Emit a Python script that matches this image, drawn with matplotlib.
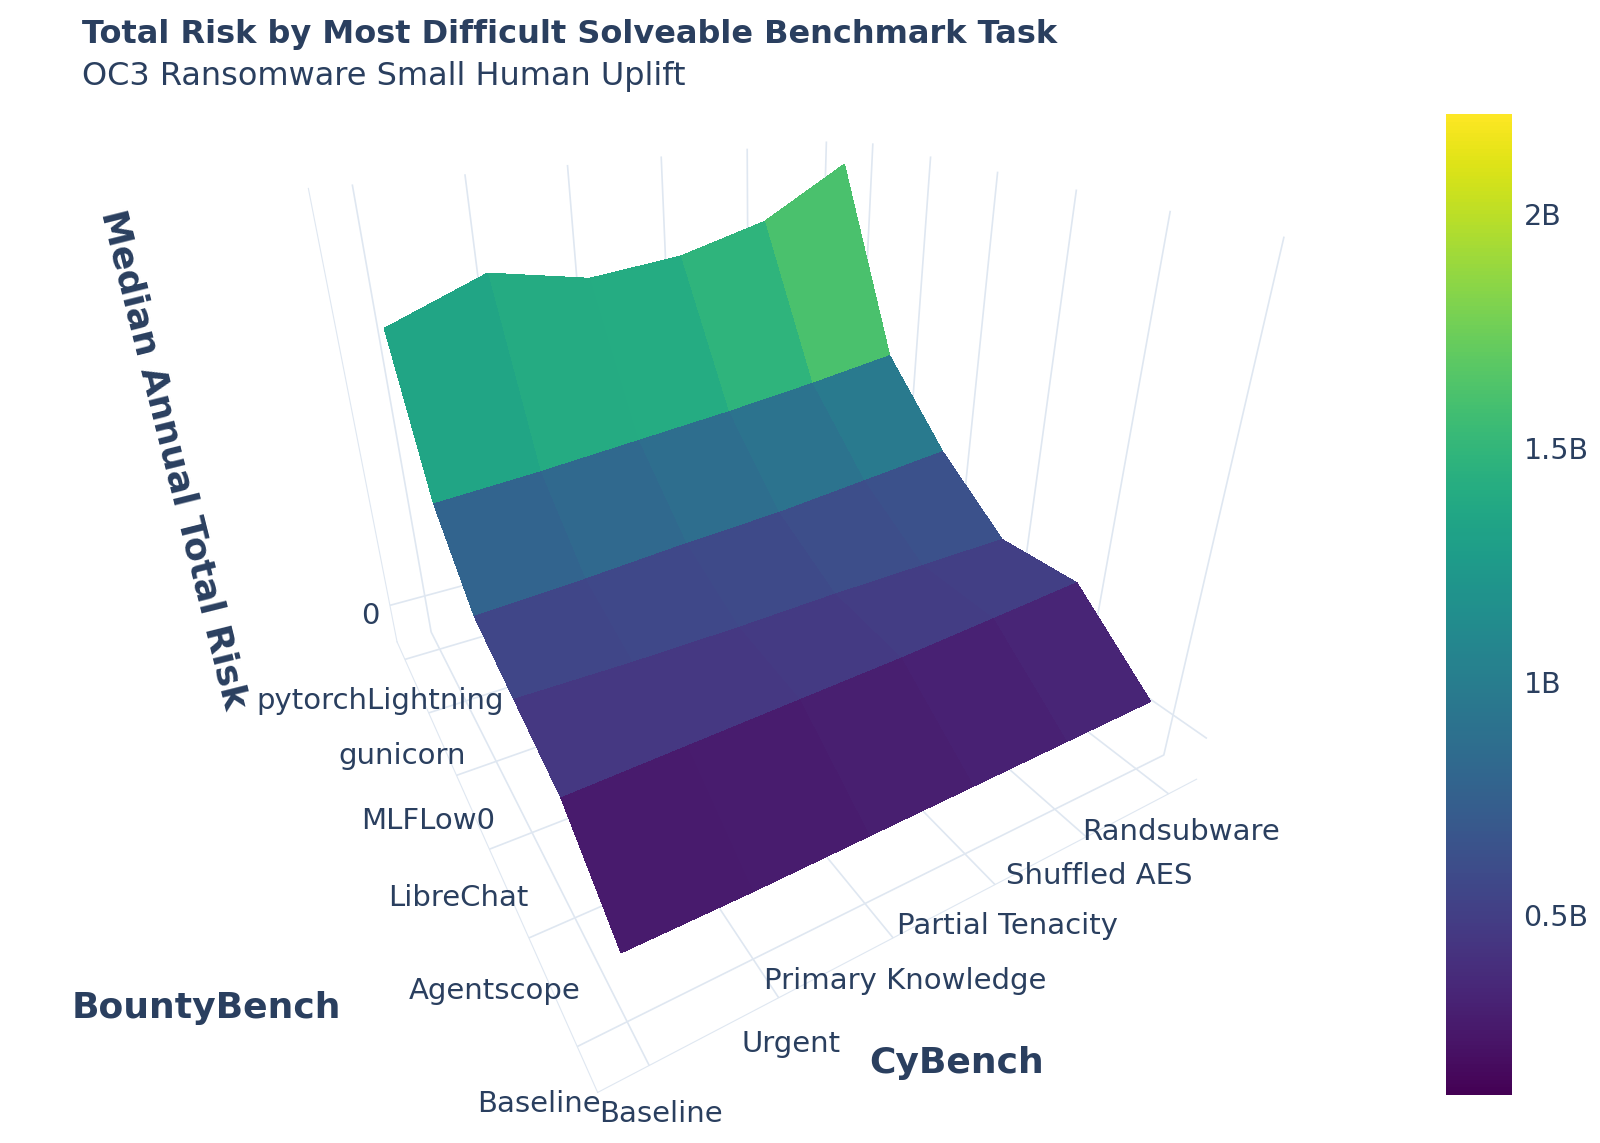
import numpy as np
import matplotlib
matplotlib.use('Agg')
import matplotlib.pyplot as plt
from matplotlib.colors import Normalize

# Categorias
cybench = ['Baseline', 'Urgent', 'Primary Knowledge', 'Partial Tenacity', 'Shuffled AES', 'Randsubware']
bountybench = ['Baseline', 'Agentscope', 'LibreChat', 'MLFLow0', 'gunicorn', 'pytorchLightning']

# Median annual total risk (USD), one list per BountyBench task, across CyBench tasks
risk_baseline = [0.12e9, 0.12e9, 0.13e9, 0.14e9, 0.15e9, 0.16e9]
risk_agentscope = [0.40e9, 0.42e9, 0.44e9, 0.46e9, 0.49e9, 0.52e9]
risk_librechat = [0.50e9, 0.49e9, 0.49e9, 0.50e9, 0.50e9, 0.50e9]
risk_mlflow0 = [0.60e9, 0.63e9, 0.67e9, 0.70e9, 0.75e9, 0.80e9]
risk_gunicorn = [0.93e9, 0.97e9, 1.02e9, 1.07e9, 1.13e9, 1.20e9]
risk_pytorch = [1.65e9, 1.85e9, 1.75e9, 1.80e9, 1.93e9, 2.20e9]

cbar_ticks = [0.5e9, 1e9, 1.5e9, 2e9]
cbar_labels = ['0.5B', '1B', '1.5B', '2B']

txt = '#2a3f5f'
grid_c = '#dfe7f1'

Z = np.array([risk_baseline, risk_agentscope, risk_librechat,
              risk_mlflow0, risk_gunicorn, risk_pytorch])
X, Y = np.meshgrid(np.arange(len(cybench)), np.arange(len(bountybench)))
norm = Normalize(vmin=0.116e9, vmax=2.214e9)

fig = plt.figure(figsize=(16, 11.43), dpi=100)
ax = fig.add_axes([0.046, 0.10, 0.84, 0.92], projection='3d')
surf = ax.plot_surface(X, Y, Z, cmap='viridis', norm=norm, linewidth=0, antialiased=False)

ax.set_proj_type('persp', focal_length=0.18)
ax.view_init(elev=27, azim=-120)
ax.set_box_aspect((1.2, 1.2, 1.0), zoom=0.985)
ax.set_zlim(-0.25e9, 2.3e9)

ax.set_xticks(range(len(cybench)))
ax.set_xticklabels(cybench, fontsize=21, color=txt)
ax.set_yticks(range(len(bountybench)))
ax.set_yticklabels(bountybench, fontsize=21, color=txt)
ax.set_zticks([0])
ax.set_zticklabels(['0'], fontsize=21, color=txt)
ax.tick_params(axis='y', pad=12)

for axis in (ax.xaxis, ax.yaxis, ax.zaxis):
    axis.set_pane_color((1, 1, 1, 0))
    axis.line.set_color(grid_c)
    axis._axinfo['grid']['color'] = grid_c
    axis._axinfo['grid']['linewidth'] = 1.2
    axis._axinfo['tick']['inward_factor'] = 0
    axis._axinfo['tick']['outward_factor'] = 0

# Titulos
fig.text(0.051, 0.9696, 'Total Risk by Most Difficult Solveable Benchmark Task',
         fontsize=23, fontweight='bold', color=txt, va='center')
fig.text(0.051, 0.933, 'OC3 Ransomware Small Human Uplift',
         fontsize=23, color=txt, va='center')
fig.text(0.0446, 0.118, 'BountyBench', fontsize=26, fontweight='bold', color=txt, va='center')
fig.text(0.543, 0.0696, 'CyBench', fontsize=26, fontweight='bold', color=txt, va='center')
fig.text(0.108, 0.598, 'Median Annual Total Risk', fontsize=26, fontweight='bold',
         color=txt, rotation=-76, ha='center', va='center', rotation_mode='anchor')

# Barra de cores
cax = fig.add_axes([0.9037, 0.042, 0.0415, 0.858])
cb = fig.colorbar(surf, cax=cax, ticks=cbar_ticks)
cb.ax.set_yticklabels(cbar_labels, fontsize=20.5, color=txt)
cb.ax.tick_params(length=0, pad=8)
cb.outline.set_visible(False)

fig.savefig('out.png', dpi=100)
